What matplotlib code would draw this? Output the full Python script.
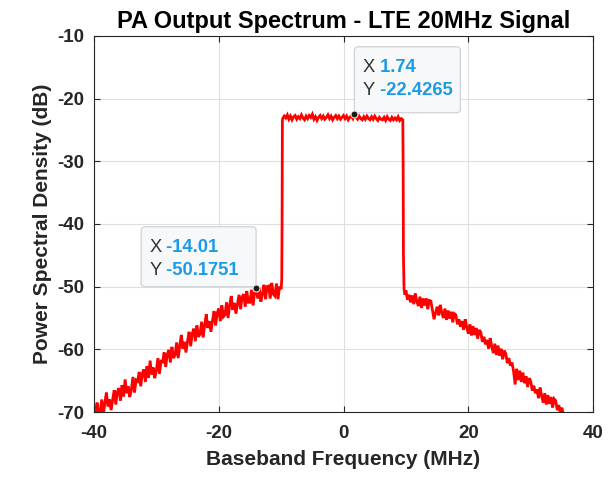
import matplotlib.pyplot as plt
import matplotlib.patches as mpatches
from matplotlib.transforms import IdentityTransform
import numpy as np

plt.rcParams['font.family'] = ['Liberation Sans', 'DejaVu Sans']
plt.rcParams['axes.unicode_minus'] = False

# Lower adjacent channel (-40 .. -10.25 MHz, 0.25 MHz bins)
left_start = -40.0
left_db = [
    -69.0, -71.0, -68.5, -70.3, -70.0, -68.0, -70.5, -68.5,
    -66.9, -69.1, -68.0, -69.7, -68.0, -66.5, -68.8, -66.8,
    -66.2, -68.2, -65.7, -67.5, -64.8, -67.0, -65.9, -67.6,
    -66.4, -64.4, -66.9, -64.9, -65.1, -63.6, -65.9, -63.9,
    -63.2, -65.2, -62.7, -64.5, -61.8, -64.0, -62.9, -64.6,
    -63.4, -61.4, -63.9, -61.9, -62.0, -60.5, -62.8, -60.8,
    -60.1, -62.1, -59.6, -61.4, -60.9, -58.9, -61.4, -59.4,
    -57.7, -59.9, -58.8, -60.5, -58.7, -57.2, -59.5, -57.5,
    -56.7, -58.7, -56.2, -58.0, -57.6, -55.6, -58.1, -56.1,
    -54.4, -56.6, -55.5, -57.2, -55.4, -53.9, -56.2, -54.2,
    -53.5, -55.5, -53.0, -54.8, -54.5, -52.5, -55.0, -53.0,
    -51.5, -53.7, -52.6, -54.3, -52.8, -51.3, -53.6, -51.6,
    -51.2, -53.2, -50.7, -52.5, -52.5, -50.5, -53.0, -51.0,
    -50.18, -51.9, -50.2, -52.4, -51.2, -49.7, -52.0, -50.0,
    -49.9, -51.9, -49.4, -51.2, -51.5, -49.5, -52.0, -50.0,
]

# Rising channel edge
edge_lo_f = [-10.0, -9.9, -9.85, -9.8]
edge_lo_db = [-50.4, -48.8, -40.0, -23.6]

# In-band (-9.75 .. 9.5 MHz)
band_start = -9.75
band_db = [
    -23.2, -22.8, -23.1, -22.6, -23.3, -22.8, -23.4, -22.9,
    -22.7, -23.3, -22.9, -23.2, -22.6, -23.1, -23.4, -22.8,
    -23.2, -22.7, -23.0, -22.5, -23.3, -22.9, -23.5, -23.0,
    -22.7, -23.2, -22.8, -23.3, -23.0, -22.6, -23.2, -22.8,
    -23.4, -23.0, -22.7, -23.2, -22.8, -23.3, -23.0, -22.7,
    -23.2, -22.8, -23.4, -23.0, -22.8, -23.2, -22.4265, -23.0,
    -23.3, -22.8, -23.2, -23.4, -22.9, -23.3, -22.8, -23.2,
    -23.4, -22.9, -23.3, -22.8, -23.2, -23.5, -23.0, -23.3,
    -23.4, -23.0, -23.5, -22.9, -23.3, -23.5, -23.0, -23.4,
    -23.1, -23.4, -22.9, -23.5, -23.2, -23.4,
]

# Falling channel edge
edge_hi_f = [9.55, 9.6, 9.7, 9.85]
edge_hi_db = [-30.0, -45.0, -50.4, -51.3]

# Upper adjacent channel (10 .. 35.5 MHz)
right_start = 10.0
right_db = [
    -50.6, -52.1, -51.3, -52.5, -51.4, -52.8, -51.1, -52.4,
    -53.1, -51.6, -53.4, -51.9, -53.0, -51.9, -53.6, -52.2,
    -52.3, -53.8, -55.2, -54.2, -53.2, -54.6, -52.9, -54.2,
    -55.0, -53.5, -55.3, -53.8, -55.1, -54.0, -55.7, -54.3,
    -54.5, -56.0, -55.2, -56.4, -55.5, -56.9, -55.2, -56.5,
    -57.5, -56.0, -57.8, -56.3, -57.7, -56.6, -58.3, -56.9,
    -57.3, -58.8, -58.0, -59.2, -58.5, -59.9, -58.2, -59.5,
    -60.6, -59.1, -60.9, -59.4, -61.0, -59.9, -61.6, -60.2,
    -60.7, -62.2, -61.4, -62.6, -62.1, -63.5, -65.6, -63.1,
    -64.9, -63.4, -65.2, -63.7, -65.4, -64.3, -66.0, -64.6,
    -65.1, -66.6, -65.8, -67.0, -66.4, -67.8, -66.1, -67.4,
    -68.5, -67.0, -68.8, -67.3, -68.7, -67.6, -69.3, -67.9,
    -68.2, -69.7, -68.9, -70.1, -69.3, -70.7, -70.5,
]
bin_step = 0.25

# Data tips (x, y)
tips = [(1.74, -22.4265), (-14.01, -50.1751)]

freq = np.concatenate([
    left_start + bin_step * np.arange(len(left_db)),
    edge_lo_f,
    band_start + bin_step * np.arange(len(band_db)),
    edge_hi_f,
    right_start + bin_step * np.arange(len(right_db)),
])
psd = np.concatenate([left_db, edge_lo_db, band_db, edge_hi_db, right_db])

fig = plt.figure(figsize=(6.14, 4.78), dpi=100)
ax = fig.add_axes([0.153, 0.138, 0.813, 0.787])

ax.plot(freq, psd, color='red', lw=2.0, solid_joinstyle='miter')
ax.set_xlim(-40, 40)
ax.set_ylim(-70, -10)
ax.set_xticks([-40, -20, 0, 20, 40])
ax.set_yticks([-70, -60, -50, -40, -30, -20, -10])

dark = '#262626'
ax.grid(True, color='#dfdfdf', lw=0.8)
ax.set_axisbelow(True)
for s in ax.spines.values():
    s.set_color(dark)
    s.set_linewidth(0.8)
ax.tick_params(direction='in', top=True, right=True, length=4,
               colors=dark, labelsize=13.5)
ax.tick_params(axis='x', pad=9)
ax.tick_params(axis='y', pad=7)
for lab in ax.get_xticklabels() + ax.get_yticklabels():
    lab.set_fontweight('bold')

ax.set_title('PA Output Spectrum - LTE 20MHz Signal', fontsize=17,
             fontweight='bold', color='black', pad=6)
ax.set_xlabel('Baseband Frequency (MHz)', fontsize=15, fontweight='bold',
              color=dark, labelpad=6)
ax.set_ylabel('Power Spectral Density (dB)', fontsize=15, fontweight='bold',
              color=dark, labelpad=4)


def datatip(x, y, side, w, h):
    ax.plot(x, y, 'o', ms=5, mfc='#1a1a1a', mec='#e8e8d0', mew=0.8,
            zorder=7, clip_on=False)
    fig.canvas.draw()
    px, py = ax.transData.transform((x, y))
    x0 = px if side == 'right' else px - w
    y0 = py + 1
    box = mpatches.FancyBboxPatch((x0, y0), w, h, transform=IdentityTransform(),
                                  boxstyle='round,pad=0,rounding_size=4',
                                  fc='#f7f8fa', ec='#cfd2d6', lw=0.9,
                                  zorder=5, clip_on=False)
    ax.add_patch(box)
    vals = ['%g' % x, '%g' % y]
    for i, (k, v) in enumerate(zip(['X', 'Y'], vals)):
        ty = y0 + h - 21 - i * 23
        t = ax.text(x0 + 8, ty, k, transform=IdentityTransform(),
                    fontsize=13.2, color='#333333', va='center', zorder=6)
        ax.annotate(' ' + v, xy=(1, 0.5), xycoords=t, fontsize=13.2,
                    fontweight='bold', color='#1a9be6', va='center', zorder=6)


datatip(*tips[0], 'right', 106, 66)
datatip(*tips[1], 'left', 115, 60)

fig.savefig('out.png', dpi=100)
